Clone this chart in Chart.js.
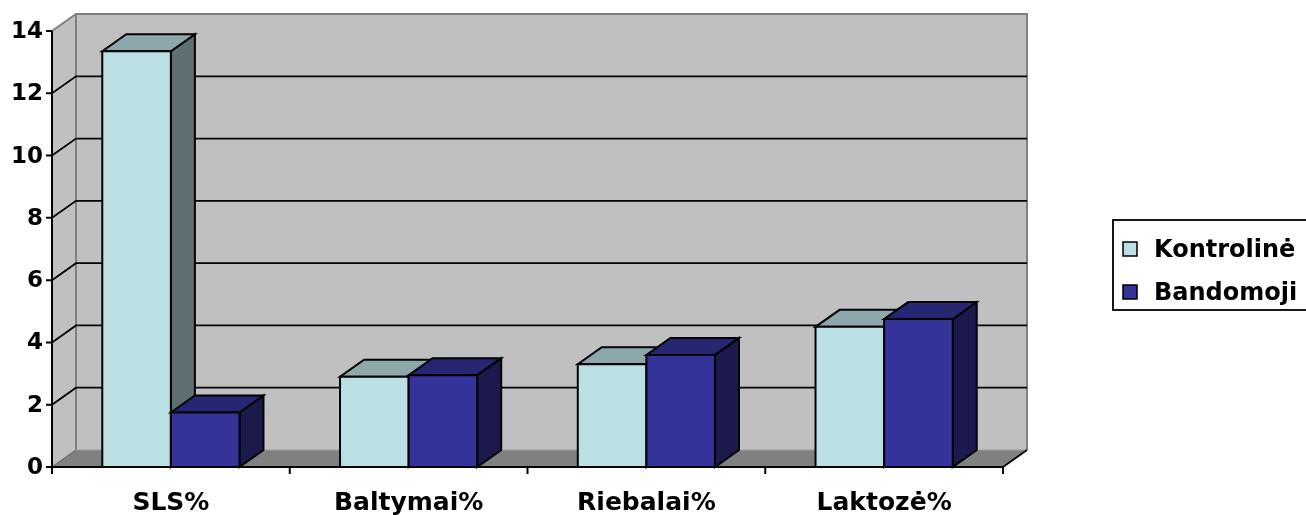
<!DOCTYPE html>
<html>
<head>
<meta charset="utf-8">
<script src="https://cdn.jsdelivr.net/npm/chart.js@4/dist/chart.umd.min.js"></script>
<style>
  html, body { margin: 0; padding: 0; background: #ffffff; }
  canvas { display: block; }
</style>
</head>
<body>
<canvas id="c" width="1306" height="515"></canvas>
<script>
// Milk composition, control vs. trial group
const categories = ['SLS%', 'Baltymai%', 'Riebalai%', 'Laktozė%'];
const kontroline = [13.35, 2.9, 3.3, 4.5];
const bandomoji = [1.75, 2.95, 3.6, 4.75];
const yTicks = [0, 2, 4, 6, 8, 10, 12, 14];
const seriesNames = ['Kontrolinė', 'Bandomoji'];

// Face colours of the pseudo-3D columns: front, top, side
const faceColors = [
  { front: '#BBE0E3', top: '#8CA8AA', side: '#5E7072' },
  { front: '#333399', top: '#262673', side: '#1A1A4D' }
];

const DEPTH_X = 24;   // oblique depth offset
const DEPTH_Y = -17;
const FONT = '"DejaVu Sans", sans-serif';

function poly(ctx, pts, fill, stroke, lw) {
  ctx.beginPath();
  ctx.moveTo(pts[0][0], pts[0][1]);
  for (let i = 1; i < pts.length; i++) ctx.lineTo(pts[i][0], pts[i][1]);
  ctx.closePath();
  if (fill) { ctx.fillStyle = fill; ctx.fill(); }
  if (stroke) { ctx.strokeStyle = stroke; ctx.lineWidth = lw || 1; ctx.stroke(); }
}

const walls3d = {
  id: 'walls3d',
  beforeDraw(chart) {
    const ctx = chart.ctx;
    ctx.save();
    ctx.fillStyle = '#ffffff';
    ctx.fillRect(0, 0, chart.width, chart.height);
    ctx.restore();
  },
  beforeDatasetsDraw(chart) {
    const { ctx, chartArea: a, scales } = chart;
    const ys = scales.y, xs = scales.x;
    const L = a.left, R = a.right;
    const B = ys.getPixelForValue(yTicks[0]);
    const T = ys.getPixelForValue(yTicks[yTicks.length - 1]);
    const dx = DEPTH_X, dy = DEPTH_Y;
    ctx.save();
    ctx.lineJoin = 'miter';

    // side wall, back wall, floor
    poly(ctx, [[L, B], [L, T], [L + dx, T + dy], [L + dx, B + dy]], '#C0C0C0');
    poly(ctx, [[L + dx, T + dy], [R + dx, T + dy], [R + dx, B + dy], [L + dx, B + dy]], '#C0C0C0');
    poly(ctx, [[L, B], [R, B], [R + dx, B + dy], [L + dx, B + dy]], '#808080');

    // wall edges
    ctx.strokeStyle = '#808080';
    ctx.lineWidth = 2;
    ctx.beginPath();
    ctx.moveTo(L, T); ctx.lineTo(L + dx, T + dy); ctx.lineTo(R + dx, T + dy); ctx.lineTo(R + dx, B + dy);
    ctx.moveTo(L + dx, T + dy); ctx.lineTo(L + dx, B + dy);
    ctx.stroke();
    ctx.strokeStyle = '#A0A0A0';
    ctx.lineWidth = 1;
    ctx.beginPath();
    ctx.moveTo(L + dx, B + dy); ctx.lineTo(R + dx, B + dy);
    ctx.stroke();
    ctx.strokeStyle = '#707070';
    ctx.lineWidth = 1.5;
    ctx.beginPath();
    ctx.moveTo(L, B); ctx.lineTo(L + dx, B + dy);
    ctx.stroke();

    // gridlines across side and back walls
    ctx.strokeStyle = '#000000';
    ctx.lineWidth = 1.8;
    ctx.beginPath();
    yTicks.forEach(v => {
      if (v === yTicks[0] || v === yTicks[yTicks.length - 1]) return;
      const yy = ys.getPixelForValue(v);
      ctx.moveTo(L, yy);
      ctx.lineTo(L + dx, yy + dy);
      ctx.lineTo(R + dx, yy + dy);
    });
    ctx.stroke();

    // floor right edge
    ctx.beginPath();
    ctx.moveTo(R, B); ctx.lineTo(R + dx, B + dy);
    ctx.stroke();

    // value axis with tick marks and labels
    ctx.lineWidth = 2;
    ctx.beginPath();
    ctx.moveTo(L, T); ctx.lineTo(L, B);
    yTicks.forEach(v => {
      const yy = ys.getPixelForValue(v);
      ctx.moveTo(L - 6, yy); ctx.lineTo(L, yy);
    });
    ctx.stroke();
    ctx.fillStyle = '#000000';
    ctx.font = 'bold 23px ' + FONT;
    ctx.textAlign = 'right';
    ctx.textBaseline = 'middle';
    yTicks.forEach(v => {
      ctx.fillText(String(v), L - 9, ys.getPixelForValue(v) + 1);
    });

    // category axis with boundary ticks and labels
    const n = categories.length;
    ctx.beginPath();
    ctx.moveTo(L, B); ctx.lineTo(R, B);
    for (let i = 0; i <= n; i++) {
      const xx = L + (R - L) * i / n;
      ctx.moveTo(xx, B); ctx.lineTo(xx, B + 7);
    }
    ctx.stroke();
    ctx.font = 'bold 25px ' + FONT;
    ctx.textAlign = 'center';
    ctx.textBaseline = 'alphabetic';
    categories.forEach((c, i) => {
      ctx.fillText(c, xs.getPixelForValue(i), B + 43);
    });
    ctx.restore();
  },
  afterDatasetsDraw(chart) {
    const ctx = chart.ctx;
    const dx = DEPTH_X, dy = DEPTH_Y;
    ctx.save();
    ctx.lineJoin = 'miter';
    const n = chart.data.labels.length;
    for (let i = 0; i < n; i++) {
      chart.data.datasets.forEach((ds, d) => {
        const el = chart.getDatasetMeta(d).data[i];
        const c = faceColors[d];
        const x0 = el.x - el.width / 2, x1 = el.x + el.width / 2;
        const top = el.y, base = el.base;
        poly(ctx, [[x1, top], [x1 + dx, top + dy], [x1 + dx, base + dy], [x1, base]], c.side, '#000', 2);
        poly(ctx, [[x0, top], [x1, top], [x1 + dx, top + dy], [x0 + dx, top + dy]], c.top, '#000', 2);
        poly(ctx, [[x0, top], [x1, top], [x1, base], [x0, base]], c.front, '#000', 2);
      });
    }
    ctx.restore();
  },
  afterDraw(chart) {
    // legend box on the right
    const ctx = chart.ctx;
    ctx.save();
    ctx.fillStyle = '#ffffff';
    ctx.fillRect(1113, 220, 220, 90);
    ctx.strokeStyle = '#000000';
    ctx.lineWidth = 1.8;
    ctx.strokeRect(1113, 220, 220, 90);
    ctx.font = 'bold 24px ' + FONT;
    ctx.textAlign = 'left';
    ctx.textBaseline = 'alphabetic';
    chart.data.datasets.forEach((ds, d) => {
      const cy = 249 + d * 43;
      ctx.fillStyle = faceColors[d].front;
      ctx.fillRect(1123, cy - 7, 14, 14);
      ctx.lineWidth = 1.5;
      ctx.strokeRect(1123, cy - 7, 14, 14);
      ctx.fillStyle = '#000000';
      ctx.fillText(ds.label, 1154, cy + 8);
    });
    ctx.restore();
  }
};

new Chart(document.getElementById('c'), {
  type: 'bar',
  data: {
    labels: categories,
    datasets: [
      { label: seriesNames[0], data: kontroline },
      { label: seriesNames[1], data: bandomoji }
    ].map(ds => Object.assign(ds, {
      backgroundColor: 'rgba(0,0,0,0)',
      borderWidth: 0,
      categoryPercentage: 0.577,
      barPercentage: 1.0
    }))
  },
  options: {
    responsive: false,
    animation: false,
    layout: { padding: { left: 52, right: 303, top: 31, bottom: 48 } },
    plugins: { legend: { display: false }, tooltip: { enabled: false } },
    scales: {
      x: { display: false, offset: true, grid: { display: false } },
      y: { display: false, min: 0, max: 14, ticks: { stepSize: 2 }, grid: { display: false } }
    }
  },
  plugins: [walls3d]
});
</script>
</body>
</html>
